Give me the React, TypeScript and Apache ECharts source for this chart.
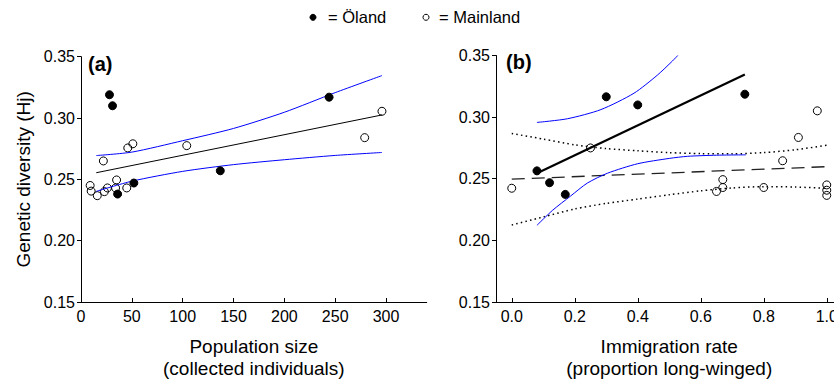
import React, { useEffect, useRef } from "react";
import * as echarts from "echarts";

const FONT = "'Liberation Sans', Arial, Helvetica, sans-serif";

// ---- Panel (a): population size ----
const popSizeOland = [28, 31, 244, 137, 52, 36];
const hjOlandA = [0.319, 0.310, 0.317, 0.257, 0.247, 0.238];
const popSizeMainland = [296, 279, 104, 51, 46, 22, 9, 10, 16, 23, 26, 35, 34, 45];
const hjMainlandA = [0.3055, 0.284, 0.2775, 0.279, 0.2756, 0.265, 0.245, 0.2404, 0.2367, 0.240, 0.243, 0.2495, 0.243, 0.243];
const fitAx = [15, 296];
const fitAy = [0.2554, 0.3025];
const ciAx = [15, 50, 100, 150, 200, 250, 296];
const ciUpperAy = [0.2694, 0.2722, 0.2815, 0.2915, 0.3047, 0.3207, 0.3346];
const ciLowerAy = [0.2402, 0.2485, 0.2565, 0.262, 0.266, 0.2695, 0.2719];
const popTicks = [0, 50, 100, 150, 200, 250, 300];

// ---- Panel (b): immigration rate ----
const immOland = [0.08, 0.12, 0.17, 0.30, 0.40, 0.74];
const hjOlandB = [0.2564, 0.2468, 0.2373, 0.3165, 0.3099, 0.3186];
const immMainland = [0.0, 0.25, 0.65, 0.67, 0.67, 0.80, 0.86, 0.91, 0.97, 1.0, 1.0, 1.0];
const hjMainlandB = [0.2423, 0.275, 0.2397, 0.2493, 0.2429, 0.2429, 0.2646, 0.2835, 0.3051, 0.245, 0.2407, 0.2365];
const fitOlandBx = [0.08, 0.74];
const fitOlandBy = [0.2545, 0.3346];
const ciUpperOlandBx = [0.08, 0.177, 0.283, 0.388, 0.462, 0.51, 0.527];
const ciUpperOlandBy = [0.2957, 0.2987, 0.3061, 0.3194, 0.3340, 0.3455, 0.35];
const ciLowerOlandBx = [0.08, 0.13, 0.187, 0.24, 0.304, 0.40, 0.50, 0.558, 0.65, 0.743];
const ciLowerOlandBy = [0.2122, 0.2245, 0.236, 0.2465, 0.2545, 0.2622, 0.2665, 0.2682, 0.2691, 0.2694];
const fitMainBx = [0, 1.0];
const fitMainBy = [0.2497, 0.2598];
const ciMainBx = [0, 0.1, 0.2, 0.3, 0.4, 0.5, 0.6, 0.7, 0.8, 0.9, 1.0];
const ciUpperMainBy = [0.2867, 0.2822, 0.2775, 0.2745, 0.2727, 0.2712, 0.2704, 0.2702, 0.2712, 0.2735, 0.2772];
const ciLowerMainBy = [0.2125, 0.219, 0.2255, 0.23, 0.2335, 0.237, 0.2402, 0.2425, 0.2436, 0.2433, 0.2422];
const immTicks = [0, 0.2, 0.4, 0.6, 0.8, 1.0];

const zip = (xs: number[], ys: number[]) => xs.map((x, i) => [x, ys[i]]);

function xAxisCfg(gridIndex: number, min: number, max: number, ticks: number[], fmt: (v: number) => string, name: string) {
  return {
    type: "value",
    gridIndex,
    min,
    max,
    axisLine: { show: true, onZero: false, lineStyle: { color: "#000", width: 1 } },
    axisTick: { show: true, inside: true, length: 4, customValues: ticks, lineStyle: { color: "#000" } },
    axisLabel: { customValues: ticks, formatter: fmt, color: "#000", fontSize: 16, fontFamily: FONT, margin: 6 },
    splitLine: { show: false },
    name,
    nameLocation: "middle",
    nameGap: 33,
    nameTextStyle: { fontSize: 19, lineHeight: 22, color: "#000", fontFamily: FONT },
  };
}

function yAxisCfg(gridIndex: number, name: string) {
  return {
    type: "value",
    gridIndex,
    min: 0.15,
    max: 0.35,
    interval: 0.05,
    axisLine: { show: true, onZero: false, lineStyle: { color: "#000", width: 1 } },
    axisTick: { show: true, inside: false, length: 4, lineStyle: { color: "#000" } },
    axisLabel: { formatter: (v: number) => v.toFixed(2), color: "#000", fontSize: 16, fontFamily: FONT, margin: 6 },
    splitLine: { show: false },
    name,
    nameLocation: "middle",
    nameRotate: 90,
    nameGap: 48,
    nameTextStyle: { fontSize: 19, color: "#000", fontFamily: FONT },
  };
}

const filled = { color: "#000", borderColor: "#000", borderWidth: 1, opacity: 1 };
const open = { color: "rgba(255,255,255,0)", borderColor: "#000", borderWidth: 1, opacity: 1 };

function lineSeries(name: string, axis: number, data: number[][], color: string, width: number, type: any, smooth: boolean) {
  return {
    name,
    type: "line",
    xAxisIndex: axis,
    yAxisIndex: axis,
    data,
    showSymbol: false,
    symbol: "none",
    smooth: smooth ? 0.25 : false,
    silent: true,
    z: 3,
    lineStyle: { color, width, type, opacity: 1 },
  };
}

const option: any = {
  animation: false,
  backgroundColor: "#fff",
  grid: [
    { left: 81, top: 56.7, width: 345.7, height: 250 },
    { left: 496, top: 55.5, width: 346.5, height: 250.5 },
  ],
  xAxis: [
    xAxisCfg(0, 0, 340, popTicks, (v: number) => String(v), "Population size\n(collected individuals)"),
    xAxisCfg(1, -0.05, 1.05, immTicks, (v: number) => v.toFixed(1), "Immigration rate\n(proportion long-winged)"),
  ],
  yAxis: [yAxisCfg(0, "Genetic diversity (Hj)"), yAxisCfg(1, "")],
  series: [
    lineSeries("fit a", 0, zip(fitAx, fitAy), "#000", 1, "solid", false),
    lineSeries("ci upper a", 0, zip(ciAx, ciUpperAy), "#0000ff", 1, "solid", true),
    lineSeries("ci lower a", 0, zip(ciAx, ciLowerAy), "#0000ff", 1, "solid", true),
    {
      name: "Öland", type: "scatter", xAxisIndex: 0, yAxisIndex: 0, symbol: "circle", symbolSize: 8, z: 4,
      itemStyle: filled, data: zip(popSizeOland, hjOlandA),
    },
    {
      name: "Mainland", type: "scatter", xAxisIndex: 0, yAxisIndex: 0, symbol: "circle", symbolSize: 8, z: 2,
      itemStyle: open, data: zip(popSizeMainland, hjMainlandA),
    },
    lineSeries("fit mainland b", 1, zip(fitMainBx, fitMainBy), "#222", 1.3, [13, 7], false),
    lineSeries("ci upper mainland b", 1, zip(ciMainBx, ciUpperMainBy), "#000", 1.5, [1.5, 3.2], true),
    lineSeries("ci lower mainland b", 1, zip(ciMainBx, ciLowerMainBy), "#000", 1.5, [1.5, 3.2], true),
    lineSeries("fit oland b", 1, zip(fitOlandBx, fitOlandBy), "#000", 2.2, "solid", false),
    lineSeries("ci upper oland b", 1, zip(ciUpperOlandBx, ciUpperOlandBy), "#0000ff", 1, "solid", true),
    lineSeries("ci lower oland b", 1, zip(ciLowerOlandBx, ciLowerOlandBy), "#0000ff", 1, "solid", true),
    {
      name: "Öland", type: "scatter", xAxisIndex: 1, yAxisIndex: 1, symbol: "circle", symbolSize: 8, z: 4,
      itemStyle: filled, data: zip(immOland, hjOlandB),
    },
    {
      name: "Mainland", type: "scatter", xAxisIndex: 1, yAxisIndex: 1, symbol: "circle", symbolSize: 8, z: 2,
      itemStyle: open, data: zip(immMainland, hjMainlandB),
    },
  ],
  graphic: [
    { type: "circle", shape: { cx: 313, cy: 17.3, r: 3 }, style: { fill: "#000", stroke: "#000" } },
    {
      type: "text", x: 328, y: 17,
      style: { text: "= Öland", fontSize: 16.5, fontFamily: FONT, fill: "#000", verticalAlign: "middle", align: "left" },
    },
    { type: "circle", shape: { cx: 426, cy: 17.3, r: 3 }, style: { fill: "#fff", stroke: "#000", lineWidth: 1 } },
    {
      type: "text", x: 439, y: 17,
      style: { text: "= Mainland", fontSize: 16.5, fontFamily: FONT, fill: "#000", verticalAlign: "middle", align: "left" },
    },
    {
      type: "text", x: 88, y: 64,
      style: { text: "(a)", fontSize: 20, fontWeight: "bold", fontFamily: FONT, fill: "#000", verticalAlign: "middle", align: "left" },
    },
    {
      type: "text", x: 506, y: 62,
      style: { text: "(b)", fontSize: 20, fontWeight: "bold", fontFamily: FONT, fill: "#000", verticalAlign: "middle", align: "left" },
    },
  ],
};

export default function App() {
  const ref = useRef<HTMLDivElement>(null);
  useEffect(() => {
    if (!ref.current) return;
    const chart = echarts.init(ref.current, undefined, { renderer: "svg" });
    chart.setOption(option);
    return () => chart.dispose();
  }, []);
  return (
    <div
      style={{ position: "absolute", left: 0, top: 0, width: 834, height: 384, overflow: "hidden", background: "#fff" }}
    >
      <div ref={ref} style={{ width: 850, height: 384 }} />
    </div>
  );
}
